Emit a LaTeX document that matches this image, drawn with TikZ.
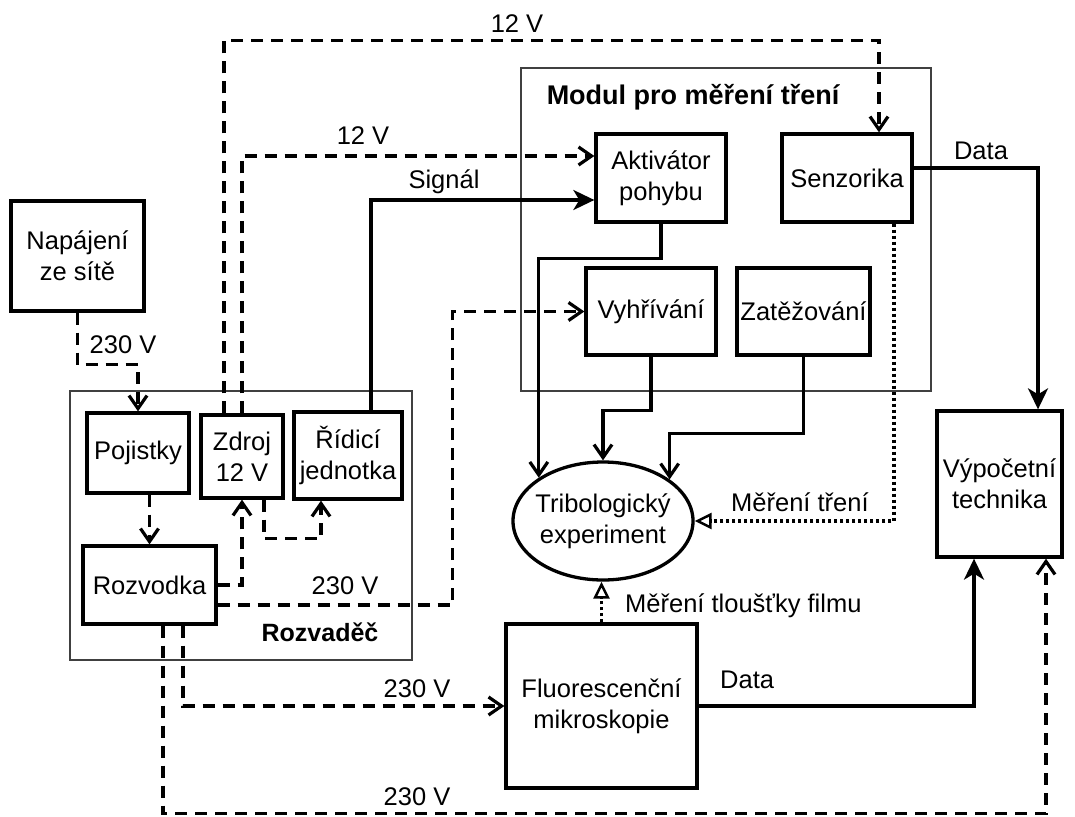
\documentclass[tikz,border=0pt]{standalone}
\usepackage{fontspec}
\setmainfont{Liberation Sans}
\usetikzlibrary{arrows.meta,shapes.geometric}
\tikzset{
  txt/.style={font=\fontsize{25.5}{31}\selectfont},
  box/.style={draw, line width=3.3pt, align=center, inner sep=0pt, txt},
  cont/.style={draw=black!75, line width=1.4pt, inner sep=0pt},
  lbl/.style={txt, inner sep=0pt, anchor=base},
  conn/.style={line width=3.2pt},
  pw/.style={conn, dash pattern=on 12pt off 8pt, -{Straight Barb[length=13pt,width=18pt]}},
  sig/.style={conn, -{Stealth[length=21pt,width=20pt,inset=6pt]}},
  flow/.style={conn, -{Straight Barb[length=13pt,width=18pt]}},
  meas/.style={conn, dash pattern=on 3pt off 3pt, -{Triangle[open,length=17pt,width=16pt,line width=2.5pt]}},
}
\begin{document}
\begin{tikzpicture}[x=1pt,y=-1pt]
\useasboundingbox (0,0) rectangle (1075,816);
% containers
\node[cont, minimum width=342pt, minimum height=269pt] (rozvadec) at (241,525.5) {};
\node[cont, minimum width=410pt, minimum height=323pt] (modul) at (726,229.5) {};
% boxes
\node[box, minimum width=133pt, minimum height=110pt] (nap) at (77.5,256) {Napájení\\ze sítě};
\node[box, minimum width=102pt, minimum height=80pt] (poj) at (138,453) {Pojistky};
\node[box, minimum width=82pt, minimum height=83pt] (zdr) at (242,456.5) {Zdroj\\12 V};
\node[box, minimum width=108pt, minimum height=87pt] (rid) at (348,455.5) {Řídicí\\jednotka};
\node[box, minimum width=133pt, minimum height=78pt] (roz) at (149.5,585) {Rozvodka};
\node[box, minimum width=130pt, minimum height=88pt] (akt) at (661,178) {Aktivátor\\pohybu};
\node[box, minimum width=130pt, minimum height=88pt] (sen) at (847,178) {Senzorika};
\node[box, minimum width=130pt, minimum height=87pt] (vyh) at (651,311.5) {Vyhřívání};
\node[box, minimum width=133pt, minimum height=87pt] (zat) at (803.5,311.5) {Zatěžování};
\node[box, ellipse, minimum width=180pt, minimum height=118pt, inner sep=-6pt] (tri) at (603,521) {Tribologický\\experiment};
\node[box, minimum width=191pt, minimum height=164pt] (flu) at (601.5,706) {Fluorescenční\\mikroskopie};
\node[box, minimum width=125pt, minimum height=146pt] (vyp) at (999.5,484) {Výpočetní\\technika};
% labels
\node[lbl] (l12a) at (517,33) {12 V};
\node[lbl] (l12b) at (363,144) {12 V};
\node[lbl] (lsig) at (444,188) {Signál};
\node[lbl] (l230a) at (123,353) {230 V};
\node[lbl] (l230b) at (345,594) {230 V};
\node[lbl, font=\fontsize{25}{30}\selectfont\bfseries] (lrozv) at (320,641) {Rozvaděč};
\node[lbl] (l230c) at (417,697) {230 V};
\node[lbl] (l230d) at (417,805) {230 V};
\node[lbl] (ldata1) at (981,159) {Data};
\node[lbl, font=\fontsize{27}{32}\selectfont\bfseries] (lmodul) at (693,104) {Modul pro měření tření};
\node[lbl, anchor=base west] (lmt) at (731,511) {Měření tření};
\node[lbl, anchor=base west] (lmtf) at (625,612) {Měření tloušťky filmu};
\node[lbl, anchor=base west] (ldata2) at (720,688) {Data};
% power connectors
\draw[pw] (nap.south) -- ++(0,52) -| (poj.north);
\draw[pw] (roz.north |- poj.south) -- (roz.north);
\draw[pw] (roz.east) -| (zdr.south);
\draw[pw] ([xshift=22pt]zdr.south) -- ++(0,39) -| ([xshift=-27pt]rid.south);
\draw[pw] (zdr.north) |- ([yshift=22pt]akt.west);
\draw[pw] ([xshift=-18pt]zdr.north) -- ++(0,-373) -| ([xshift=32pt]sen.north);
\draw[pw] ([yshift=-20pt]roz.east) -- ++(235,0) |- (vyh.west);
\draw[pw] ([xshift=33.5pt]roz.south) |- (flu.west);
\draw[pw] ([xshift=13.5pt]roz.south) -- ++(0,188) -| ([xshift=46.5pt]vyp.south);
% signal
\draw[sig] ([xshift=23pt]rid.north) |- ([yshift=-22pt]akt.west);
% modules into experiment
\draw[flow] (akt.south) -- ++(0,35) -| (tri.146.25);
\draw[flow] (vyh.south) -- ++(0,54) -| (tri.north);
\draw[flow] (zat.south) -- ++(0,77) -| (tri.32.1);
% measurements
\draw[meas] ([xshift=47pt]sen.south) |- (tri.east);
\draw[meas] (flu.north) -- (flu.north |- tri.south);
% data
\draw[sig] ([yshift=10pt]sen.east) -| ([xshift=38.5pt]vyp.north);
\draw[sig] (flu.east) -| ([xshift=-25.5pt]vyp.south);
\end{tikzpicture}
\end{document}
